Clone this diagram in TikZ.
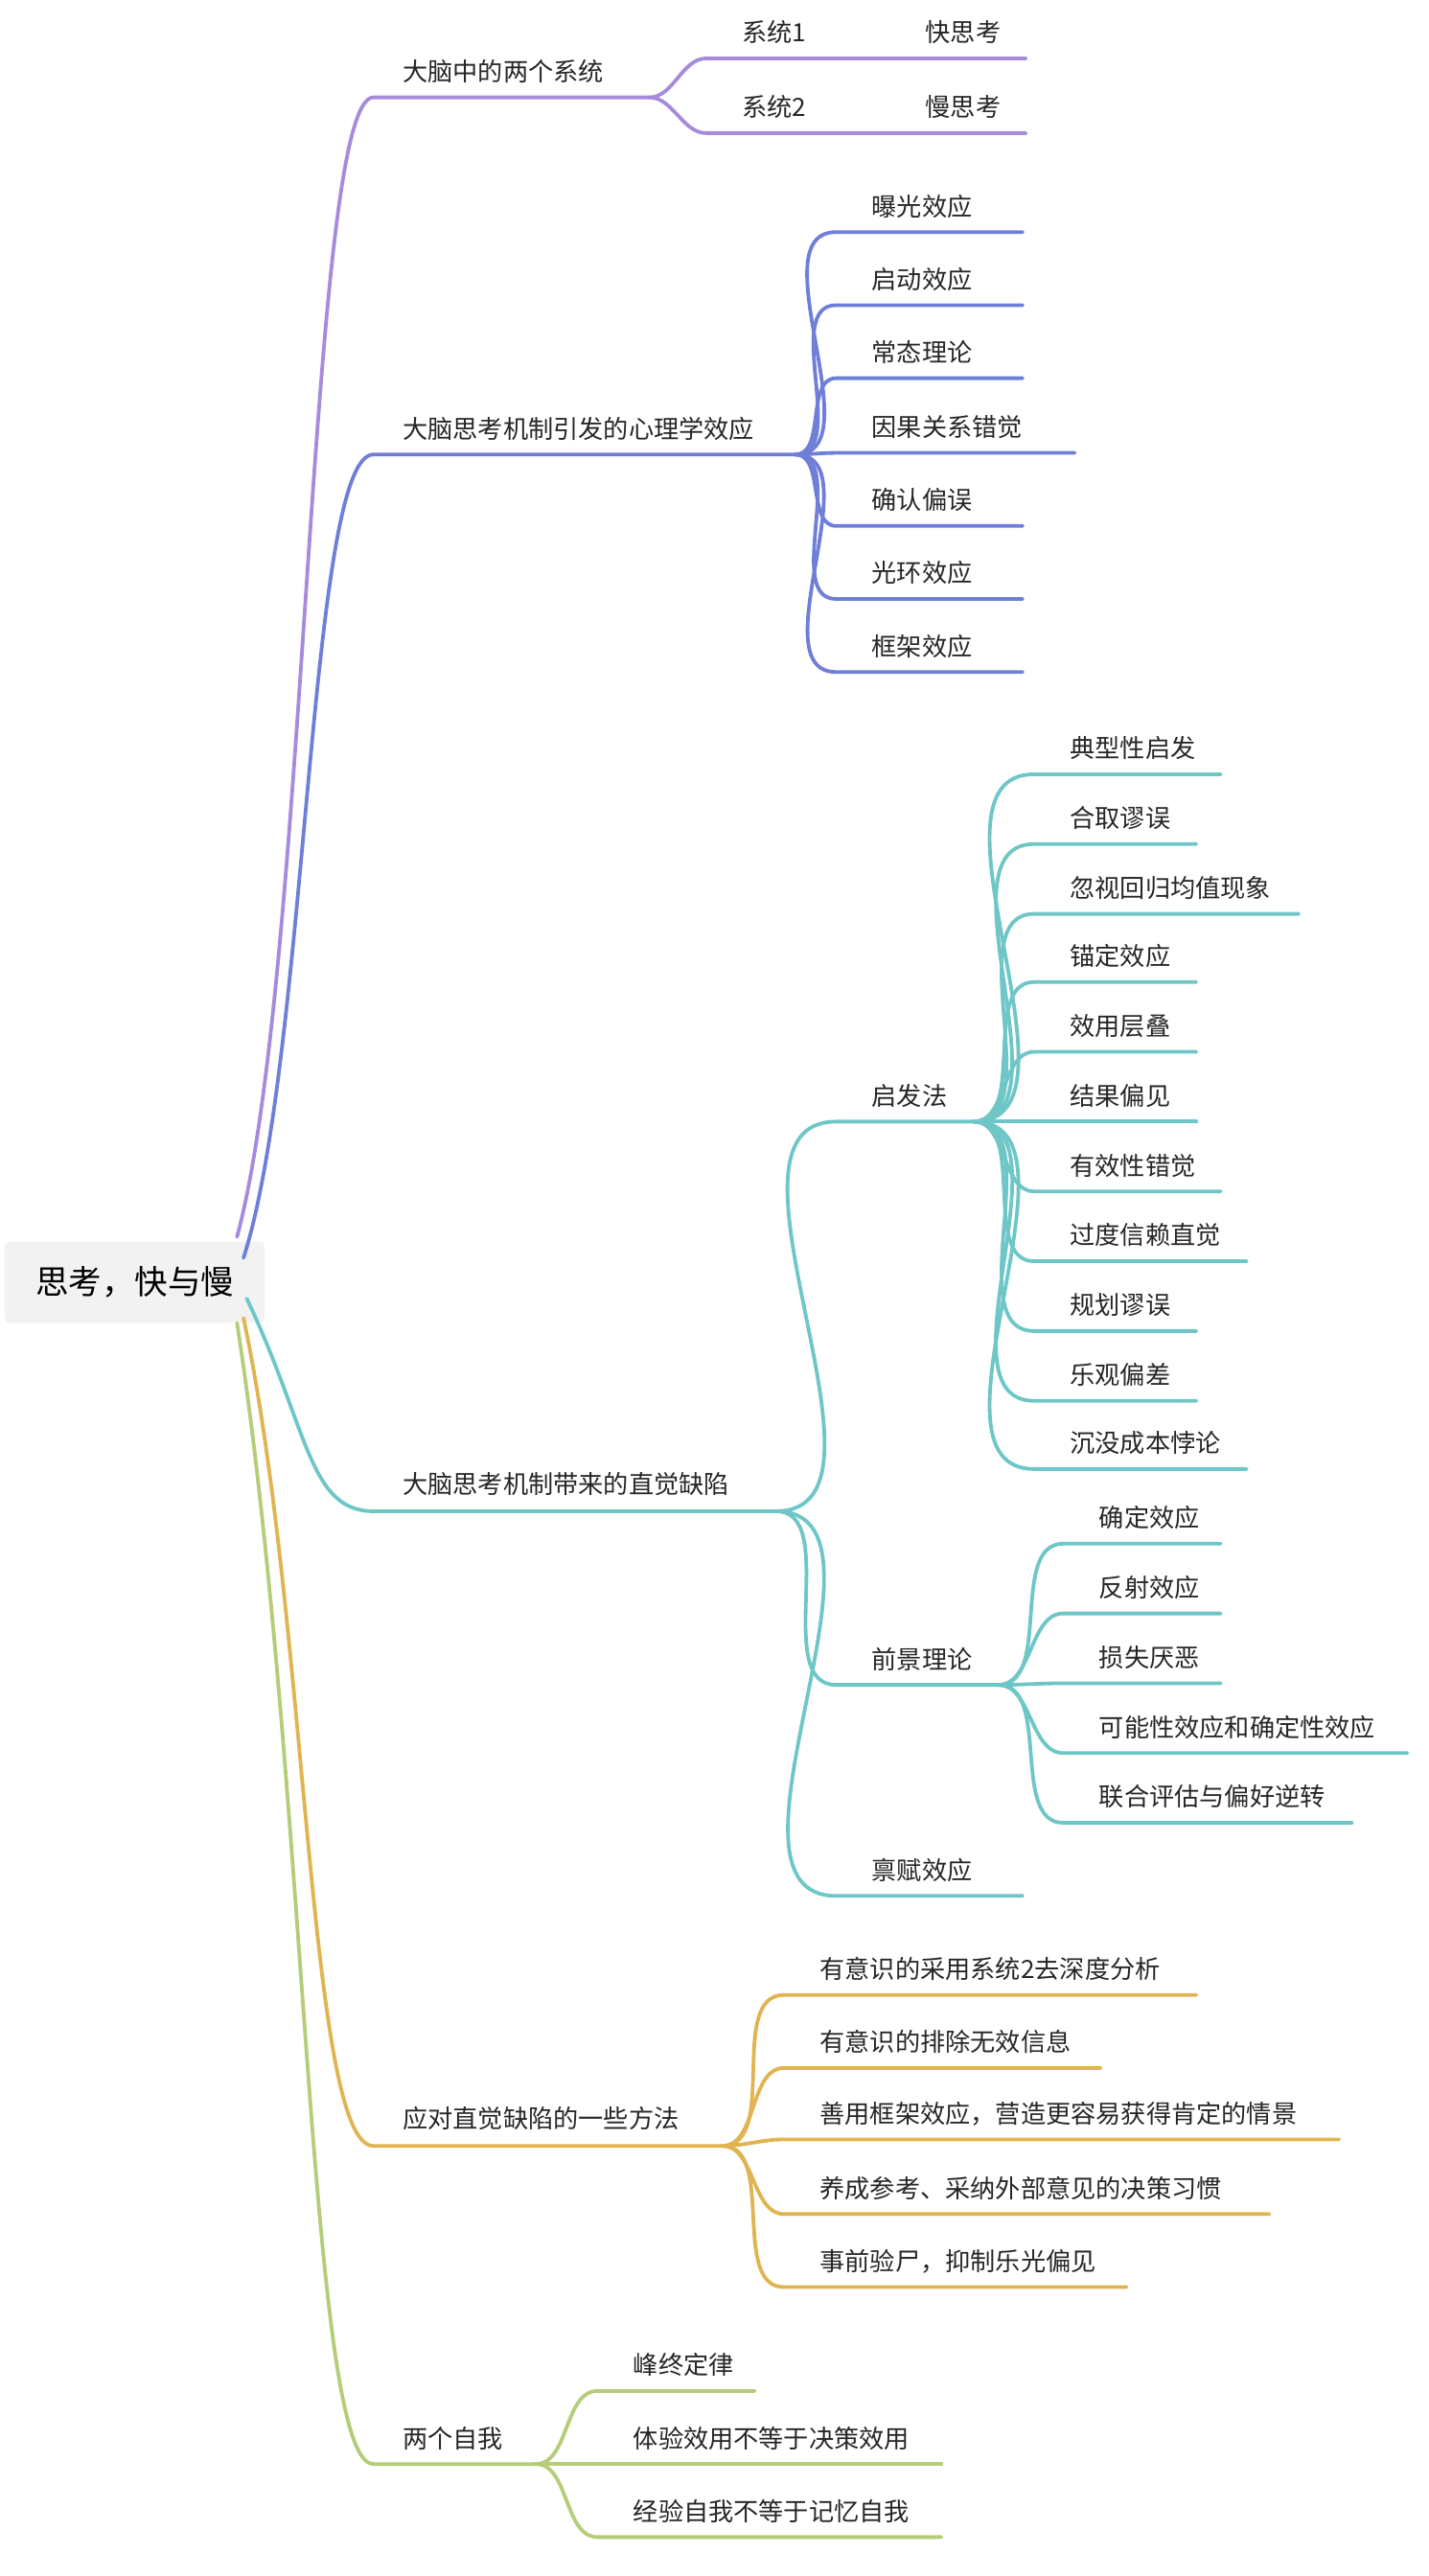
\documentclass[tikz,border=0pt]{standalone}
\usepackage{fontspec}
\setmainfont{Noto Sans CJK SC}
\definecolor{cpur}{HTML}{A78BDB}
\definecolor{cblu}{HTML}{6F7FD8}
\definecolor{ctea}{HTML}{6EC6C6}
\definecolor{cgol}{HTML}{E0B450}
\definecolor{cgrn}{HTML}{B5CC78}
\tikzset{lbl/.style={anchor=west,inner sep=0pt,font=\fontsize{22}{24}\selectfont,text=black!85},
 br/.style={line width=3.2pt,line cap=round}}
% #1 color #2 parent coord #3 line start x #4 text y #5 line end x #6 text #7 name
\newcommand\leaf[7]{%
 \node[lbl] (#7) at (#3+22,#4) {#6};
 \coordinate (#7s) at (#3,#4+16); \coordinate (#7e) at (#5,#4+16);
 \draw[br,#1] (#2) to[out=0,in=180,looseness=0.9] (#7s) -- (#7e);}
\begin{document}
\begin{tikzpicture}[x=0.05cm,y=-0.05cm]
\useasboundingbox (0,0) rectangle (880,1587);
\node[fill=black!5,rounded corners=4pt,minimum width=160*0.05cm,minimum height=50*0.05cm,font=\fontsize{29}{31}\selectfont] (root) at (83,790) {思考，快与慢};
\coordinate (r1) at (146,762);
\coordinate (r2) at (150,775);
\coordinate (r3) at (152,800);
\coordinate (r4) at (150,812);
\coordinate (r5) at (146,815);
% branch 1
\node[lbl] (b1) at (248,44) {大脑中的两个系统};
\coordinate (b1s) at (230,60); \coordinate (b1e) at (400,60);
\draw[br,cpur] (r1) .. controls (190,600) and (190,60) .. (b1s) -- (b1e);
\leaf{cpur}{b1e}{435}{20}{632}{系统1}{s1}
\leaf{cpur}{b1e}{435}{66}{632}{系统2}{s2}
\node[lbl] (s1b) at (570,20) {快思考};
\node[lbl] (s2b) at (570,66) {慢思考};
% branch 2
\node[lbl] (b2) at (248,264) {大脑思考机制引发的心理学效应};
\coordinate (b2s) at (230,280); \coordinate (b2e) at (490,280);
\draw[br,cblu] (r2) .. controls (190,650) and (190,280) .. (b2s) -- (b2e);
\leaf{cblu}{b2e}{515}{127}{630}{曝光效应}{c1}
\leaf{cblu}{b2e}{515}{172}{630}{启动效应}{c2}
\leaf{cblu}{b2e}{515}{217}{630}{常态理论}{c3}
\leaf{cblu}{b2e}{515}{263}{662}{因果关系错觉}{c4}
\leaf{cblu}{b2e}{515}{308}{630}{确认偏误}{c5}
\leaf{cblu}{b2e}{515}{353}{630}{光环效应}{c6}
\leaf{cblu}{b2e}{515}{398}{630}{框架效应}{c7}
% branch 3
\node[lbl] (b3) at (248,914) {大脑思考机制带来的直觉缺陷};
\coordinate (b3s) at (230,931); \coordinate (b3e) at (478,931);
\draw[br,ctea] (r3) .. controls (190,880) and (190,931) .. (b3s) -- (b3e);
\leaf{ctea}{b3e}{515}{675}{600}{启发法}{h}
\leaf{ctea}{b3e}{515}{1022}{615}{前景理论}{q}
\leaf{ctea}{b3e}{515}{1152}{630}{禀赋效应}{bf}
\leaf{ctea}{he}{637}{461}{752}{典型性启发}{h1}
\leaf{ctea}{he}{637}{504}{737}{合取谬误}{h2}
\leaf{ctea}{he}{637}{547}{800}{忽视回归均值现象}{h3}
\leaf{ctea}{he}{637}{589}{737}{锚定效应}{h4}
\leaf{ctea}{he}{637}{632}{737}{效用层叠}{h5}
\leaf{ctea}{he}{637}{675}{737}{结果偏见}{h6}
\leaf{ctea}{he}{637}{718}{752}{有效性错觉}{h7}
\leaf{ctea}{he}{637}{761}{768}{过度信赖直觉}{h8}
\leaf{ctea}{he}{637}{804}{737}{规划谬误}{h9}
\leaf{ctea}{he}{637}{847}{737}{乐观偏差}{h10}
\leaf{ctea}{he}{637}{889}{768}{沉没成本悖论}{h11}
\leaf{ctea}{qe}{655}{935}{752}{确定效应}{q1}
\leaf{ctea}{qe}{655}{978}{752}{反射效应}{q2}
\leaf{ctea}{qe}{655}{1021}{752}{损失厌恶}{q3}
\leaf{ctea}{qe}{655}{1064}{867}{可能性效应和确定性效应}{q4}
\leaf{ctea}{qe}{655}{1107}{833}{联合评估与偏好逆转}{q5}
% branch 4
\node[lbl] (b4) at (248,1305) {应对直觉缺陷的一些方法};
\coordinate (b4s) at (230,1322); \coordinate (b4e) at (445,1322);
\draw[br,cgol] (r4) .. controls (190,1000) and (190,1322) .. (b4s) -- (b4e);
\leaf{cgol}{b4e}{483}{1213}{737}{有意识的采用系统2去深度分析}{m1}
\leaf{cgol}{b4e}{483}{1258}{678}{有意识的排除无效信息}{m2}
\leaf{cgol}{b4e}{483}{1302}{825}{善用框架效应，营造更容易获得肯定的情景}{m3}
\leaf{cgol}{b4e}{483}{1348}{782}{养成参考、采纳外部意见的决策习惯}{m4}
\leaf{cgol}{b4e}{483}{1393}{694}{事前验尸，抑制乐光偏见}{m5}
% branch 5
\node[lbl] (b5) at (248,1502) {两个自我};
\coordinate (b5s) at (230,1518); \coordinate (b5e) at (330,1518);
\draw[br,cgrn] (r5) .. controls (190,1100) and (190,1518) .. (b5s) -- (b5e);
\leaf{cgrn}{b5e}{368}{1457}{465}{峰终定律}{z1}
\leaf{cgrn}{b5e}{368}{1502}{580}{体验效用不等于决策效用}{z2}
\leaf{cgrn}{b5e}{368}{1547}{580}{经验自我不等于记忆自我}{z3}
\end{tikzpicture}
\end{document}
